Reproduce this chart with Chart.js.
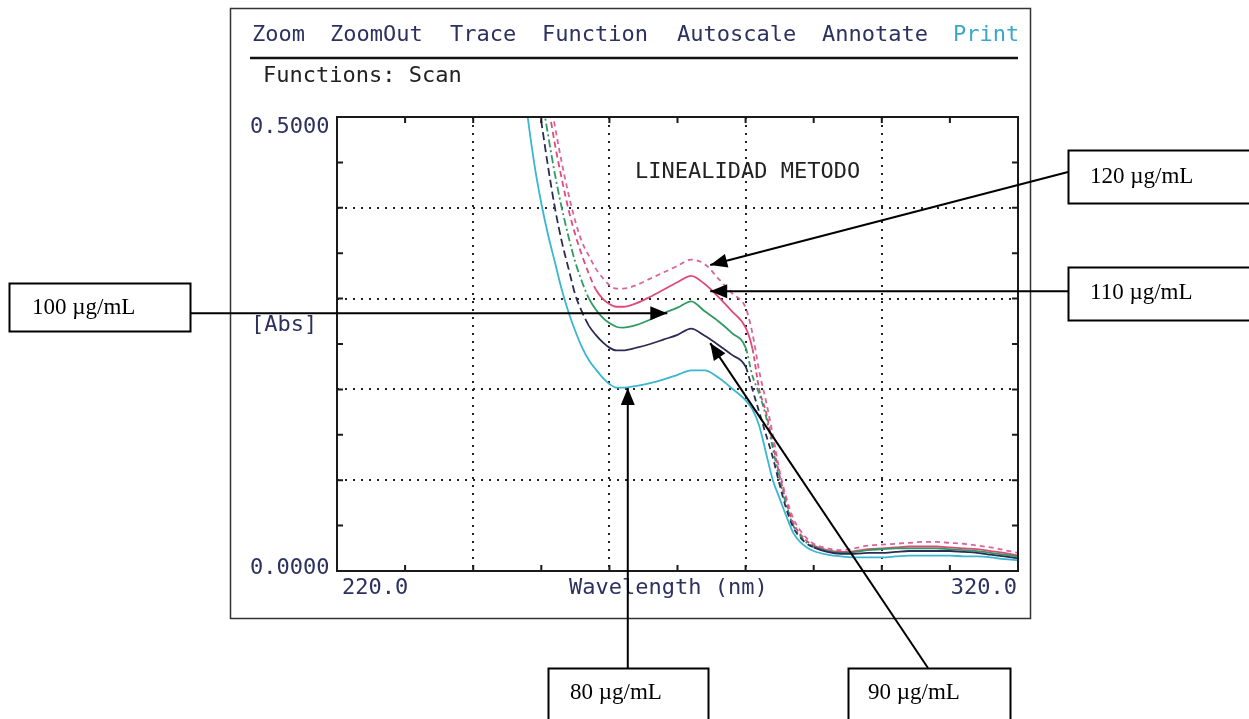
<!DOCTYPE html>
<html><head><meta charset="utf-8">
<script src="https://cdn.jsdelivr.net/npm/chart.js@4.4.1/dist/chart.umd.min.js"></script>
<style>html,body{margin:0;padding:0;background:#fff}canvas{display:block}</style>
</head><body>
<canvas id="c" width="1249" height="719"></canvas>
<script>
// ---------- DATA ----------
const wavelengths = [247,248,249,250,251,252,253,254,255,256,257,258,259,260,261,262,264,266,268,270,272,274,276,278,280,281,282,283,284,285,286,287,288,289,290,292,294,296,298,300,302,304,306,308,310,312,314,316,318,320];
const abs80  = [0.56,0.50,0.447,0.405,0.37,0.34,0.31,0.285,0.264,0.246,0.232,0.222,0.213,0.206,0.202,0.202,0.204,0.207,0.211,0.216,0.221,0.221,0.213,0.201,0.188,0.178,0.16,0.13,0.1,0.08,0.06,0.042,0.032,0.026,0.022,0.018,0.016,0.015,0.015,0.015,0.016,0.017,0.017,0.017,0.017,0.016,0.016,0.015,0.013,0.012];
const abs90  = [0.68,0.61,0.545,0.495,0.445,0.40,0.363,0.333,0.304,0.285,0.27,0.26,0.252,0.246,0.243,0.243,0.246,0.25,0.255,0.26,0.267,0.259,0.249,0.238,0.225,0.2,0.175,0.15,0.125,0.095,0.068,0.048,0.037,0.03,0.026,0.021,0.019,0.019,0.02,0.02,0.021,0.022,0.022,0.022,0.022,0.021,0.02,0.018,0.016,0.014];
const abs100 = [0.72,0.64,0.575,0.525,0.48,0.437,0.40,0.368,0.34,0.318,0.3,0.288,0.279,0.273,0.269,0.268,0.271,0.277,0.284,0.29,0.297,0.286,0.275,0.262,0.246,0.215,0.195,0.17,0.135,0.1,0.072,0.05,0.039,0.031,0.027,0.022,0.02,0.021,0.023,0.024,0.025,0.025,0.025,0.025,0.024,0.023,0.022,0.02,0.018,0.016];
const abs110 = [0.79,0.70,0.625,0.565,0.515,0.47,0.432,0.398,0.37,0.347,0.327,0.31,0.3,0.294,0.291,0.291,0.295,0.302,0.31,0.318,0.325,0.316,0.302,0.286,0.268,0.245,0.2,0.175,0.14,0.105,0.075,0.053,0.041,0.033,0.028,0.023,0.021,0.022,0.024,0.025,0.026,0.027,0.027,0.027,0.026,0.025,0.024,0.022,0.02,0.017];
const abs120 = [0.84,0.74,0.655,0.59,0.535,0.49,0.45,0.415,0.385,0.362,0.347,0.333,0.323,0.315,0.311,0.311,0.315,0.322,0.329,0.336,0.343,0.338,0.322,0.306,0.29,0.262,0.22,0.187,0.15,0.11,0.08,0.058,0.045,0.036,0.03,0.025,0.023,0.025,0.028,0.029,0.03,0.031,0.032,0.032,0.031,0.03,0.028,0.026,0.023,0.02];
const seriesLabels = ['80 µg/mL','90 µg/mL','100 µg/mL','110 µg/mL','120 µg/mL'];
const xTickLabels = ['220.0','320.0'];
const yTickLabels = ['0.5000','0.0000'];
const menuItems = ['Zoom','ZoomOut','Trace','Function','Autoscale','Annotate','Print'];
const functionsText = 'Functions: Scan';
const plotTitle = 'LINEALIDAD METODO';
const xTitle = 'Wavelength (nm)';
const yTitle = '[Abs]';
// callout arrow tips (wavelength, absorbance) per series label
const calloutTipWl  = [262.7, 274.8, 268.5, 274.8, 274.8];
const calloutTipAbs = [0.2015, 0.251, 0.284, 0.308, 0.337];

// ---------- STYLE ----------
const colors = ['#3ab6d0','#2b2b55','#2f9a63','#e04a78','#d9659c'];
const dashStyle = [
  {up:null, upTo:0, lo:null, loFrom:999, base:[]},
  {up:[8,4], upTo:257, lo:[6,4], loFrom:280, base:[]},
  {up:[8,3,2,3], upTo:257, lo:[6,3,2,3], loFrom:280, base:[]},
  {up:[6,4], upTo:258, lo:[5,3], loFrom:281, base:[]},
  {up:[5,4], upTo:999, lo:[5,4], loFrom:999, base:[4,4]}
];
const menuX = [252,330,450,542,677,822,953];
const FONT = '22px "DejaVu Sans Mono", monospace';
const NAVY = '#2c3160';

const series = [abs80, abs90, abs100, abs110, abs120];
const datasets = series.map((vals,i)=>({
  label: seriesLabels[i],
  data: wavelengths.map((w,k)=>({x:w,y:vals[k]})),
  borderColor: colors[i],
  borderWidth: 1.8,
  borderDash: dashStyle[i].base,
  pointRadius: 0,
  cubicInterpolationMode: 'monotone',
  segment: {
    borderDash: ctx => {
      const x = ctx.p0.parsed.x, s = dashStyle[i];
      if (s.up && x < s.upTo) return s.up;
      if (s.lo && x >= s.loFrom && x < 290) return s.lo;
      return undefined;
    }
  }
}));

// callout box layout (pixels)
const boxes = [
  {x:548, y:668, w:160, h:52, tx:570, ty:693, tail:'top'},
  {x:848, y:668, w:162, h:52, tx:868, ty:693, tail:[928,668]},
  {x:9,   y:283, w:181, h:48, tx:32,  ty:308, tail:'right'},
  {x:1068,y:267, w:190, h:53, tx:1090,ty:293, tail:'left'},
  {x:1068,y:150, w:190, h:53, tx:1090,ty:177, tail:[1068,172]}
];

function arrow(ctx, x1,y1,x2,y2){
  ctx.beginPath(); ctx.moveTo(x1,y1); ctx.lineTo(x2,y2); ctx.stroke();
  const a = Math.atan2(y2-y1, x2-x1), L=17, W=7;
  ctx.beginPath();
  ctx.moveTo(x2,y2);
  ctx.lineTo(x2 - L*Math.cos(a) + W*Math.sin(a), y2 - L*Math.sin(a) - W*Math.cos(a));
  ctx.lineTo(x2 - L*Math.cos(a) - W*Math.sin(a), y2 - L*Math.sin(a) + W*Math.cos(a));
  ctx.closePath(); ctx.fill();
}

const decor = {
  id:'decor',
  afterDraw(chart){
    const ctx = chart.ctx, xs = chart.scales.x, ys = chart.scales.y, ca = chart.chartArea;
    ctx.save();
    // outer frame
    ctx.strokeStyle = '#333'; ctx.lineWidth = 1.5;
    ctx.strokeRect(230.5, 8.5, 800, 610);
    // menu
    ctx.font = FONT; ctx.textBaseline = 'middle'; ctx.textAlign = 'left';
    menuItems.forEach((m,i)=>{ ctx.fillStyle = (m==='Print') ? '#3aa8c8' : NAVY; ctx.fillText(m, menuX[i], 35); });
    ctx.strokeStyle = '#111'; ctx.lineWidth = 2.5;
    ctx.beginPath(); ctx.moveTo(250,58); ctx.lineTo(1018,58); ctx.stroke();
    ctx.fillStyle = '#222'; ctx.fillText(functionsText, 263, 76);
    // plot box
    ctx.strokeStyle = '#1a1a1a'; ctx.lineWidth = 2;
    ctx.strokeRect(ca.left, ca.top, ca.right-ca.left, ca.bottom-ca.top);
    // inner ticks
    ctx.lineWidth = 2;
    for (let v=220; v<=320; v+=10){
      const p = xs.getPixelForValue(v);
      ctx.beginPath(); ctx.moveTo(p, ca.bottom); ctx.lineTo(p, ca.bottom-6);
      ctx.moveTo(p, ca.top); ctx.lineTo(p, ca.top+6); ctx.stroke();
    }
    for (let k=0; k<=10; k++){
      const p = ys.getPixelForValue(k*0.05);
      ctx.beginPath(); ctx.moveTo(ca.left, p); ctx.lineTo(ca.left+6, p);
      ctx.moveTo(ca.right, p); ctx.lineTo(ca.right-6, p); ctx.stroke();
    }
    // axis texts
    ctx.fillStyle = NAVY;
    ctx.fillText(yTickLabels[0], 250, 127);
    ctx.fillText(yTickLabels[1], 250, 568);
    ctx.fillText(yTitle, 251, 325);
    ctx.fillText(xTickLabels[0], 342, 588);
    ctx.textAlign = 'right'; ctx.fillText(xTickLabels[1], 1017, 588);
    ctx.textAlign = 'left'; ctx.fillText(xTitle, 569, 588);
    ctx.fillStyle = '#222'; ctx.fillText(plotTitle, 635, 172);
    // callouts
    ctx.strokeStyle = '#000'; ctx.fillStyle = '#000'; ctx.lineWidth = 2;
    ctx.font = '23px "Liberation Serif", "Times New Roman", serif';
    boxes.forEach((b,i)=>{
      ctx.fillStyle = '#fff'; ctx.fillRect(b.x, b.y, b.w, b.h);
      ctx.strokeRect(b.x+0.5, b.y+0.5, b.w, b.h);
      ctx.fillStyle = '#000'; ctx.textBaseline = 'middle';
      ctx.fillText(seriesLabels[i], b.tx, b.ty);
      const tx = xs.getPixelForValue(calloutTipWl[i]), ty = ys.getPixelForValue(calloutTipAbs[i]);
      let sx, sy;
      if (b.tail==='top'){ sx = tx; sy = b.y; }
      else if (b.tail==='right'){ sx = b.x+b.w; sy = ty; }
      else if (b.tail==='left'){ sx = b.x; sy = ty; }
      else { sx = b.tail[0]; sy = b.tail[1]; }
      arrow(ctx, sx, sy, tx, ty);
    });
    ctx.restore();
  }
};

new Chart(document.getElementById('c'), {
  type:'line',
  data:{datasets},
  options:{
    responsive:false, animation:false, devicePixelRatio:1,
    layout:{padding:{left:337, top:117, right:231, bottom:148}},
    plugins:{legend:{display:false}, tooltip:{enabled:false}},
    scales:{
      x:{type:'linear', min:220, max:320,
         ticks:{display:false, stepSize:20},
         grid:{drawTicks:false, color:'#222', lineWidth:2},
         border:{display:false, dash:[2,6]},
         afterFit:s=>{s.height=0;}},
      y:{min:0, max:0.5,
         ticks:{display:false, stepSize:0.1},
         grid:{drawTicks:false, color:'#222', lineWidth:2},
         border:{display:false, dash:[2,6]},
         afterFit:s=>{s.width=0;}}
    }
  },
  plugins:[decor]
});
</script>
</body></html>
